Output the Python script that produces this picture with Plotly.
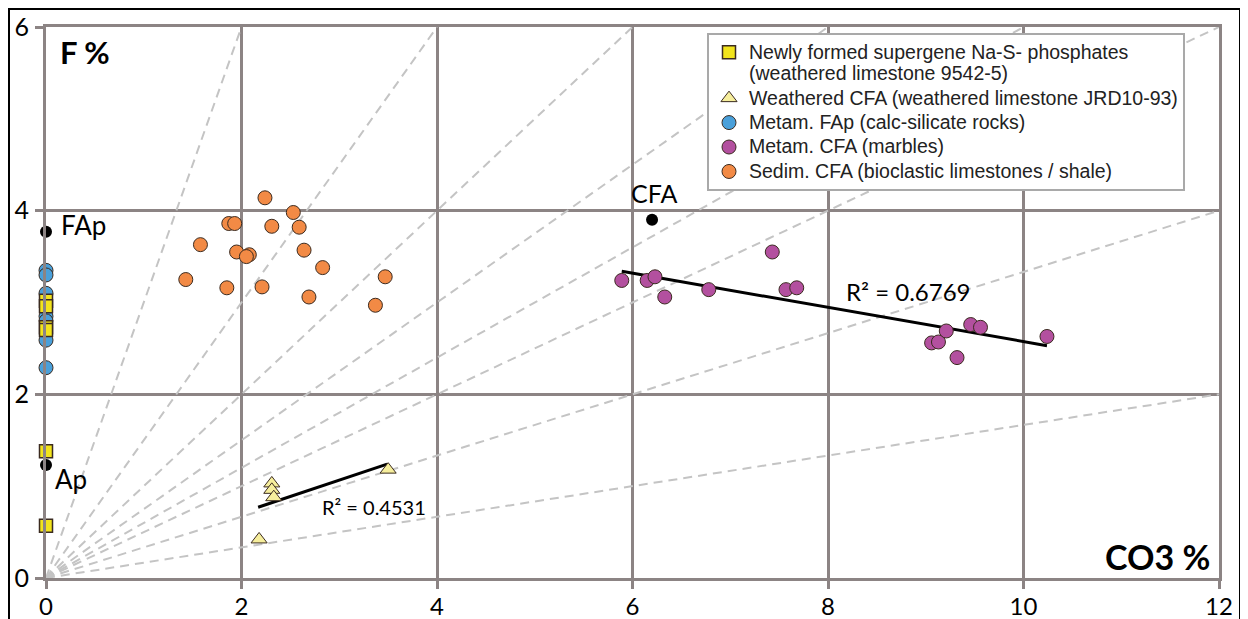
import plotly.graph_objects as go

# ---------------- data ----------------
# Newly formed supergene Na-S- phosphates (all at CO3 = 0)
sq_x = [0, 0, 0, 0, 0, 0]
sq_y = [3.02, 2.96, 2.73, 2.70, 1.38, 0.57]

# Weathered CFA (triangles)
tri_x = [2.31, 2.31, 2.33, 3.50, 2.18]
tri_y = [1.03, 0.96, 0.88, 1.18, 0.42]
tri_fit_x = [2.17, 3.49]
tri_fit_y = [0.77, 1.24]

# Metam. FAp (calc-silicate rocks)
blue_x = [0, 0, 0, 0, 0, 0, 0]
blue_y = [3.35, 3.30, 3.10, 2.85, 2.80, 2.59, 2.29]

# Metam. CFA (marbles)
purple_x = [5.89, 6.15, 6.23, 6.33, 6.78, 7.43, 7.57, 7.68,
            9.06, 9.13, 9.21, 9.32, 9.46, 9.56, 10.24]
purple_y = [3.24, 3.24, 3.28, 3.06, 3.14, 3.55, 3.14, 3.16,
            2.56, 2.57, 2.69, 2.40, 2.76, 2.73, 2.63]
purple_fit_x = [5.89, 10.24]
purple_fit_y = [3.34, 2.53]

# Sedim. CFA (bioclastic limestones / shale)
orange_x = [2.24, 2.53, 1.87, 1.93, 2.31, 2.59, 1.58, 1.95, 2.08, 2.05,
            2.64, 2.83, 3.47, 1.43, 1.85, 2.21, 2.69, 3.37]
orange_y = [4.14, 3.98, 3.86, 3.86, 3.83, 3.82, 3.63, 3.55, 3.52, 3.50,
            3.57, 3.38, 3.28, 3.25, 3.16, 3.17, 3.06, 2.97]

# Reference end-members
ref_names = ["FAp", "Ap", "CFA"]
ref_x = [0, 0, 6.2]
ref_y = [3.77, 1.23, 3.90]

# F/CO3 ratio guide lines from origin
ratios = [3, 1.5, 1, 0.75, 0.6, 0.5, 1 / 3, 1 / 6]

r2_labels = ["R² = 0.4531", "R² = 0.6769"]

x_ticks = [0, 2, 4, 6, 8, 10, 12]
y_ticks = [0, 2, 4, 6]

names = [
    "Newly formed supergene Na-S- phosphates<br>(weathered limestone 9542-5)",
    "Weathered CFA (weathered limestone JRD10-93)",
    "Metam. FAp (calc-silicate rocks)",
    "Metam. CFA (marbles)",
    "Sedim. CFA (bioclastic limestones / shale)",
]

# ---------------- figure ----------------
XMAX, YMAX = 12, 6
GRID = "#8c8484"
EDGE = "#3b2b20"
FONT = "Lato"
LEG_PX = 19.5

fig = go.Figure()

# dashed ratio lines
for r in ratios:
    xe = min(XMAX, YMAX / r)
    fig.add_trace(go.Scatter(
        x=[0, xe], y=[0, r * xe], mode="lines",
        line=dict(color="#c4c4c4", width=2, dash="9px,6px"),
        showlegend=False, hoverinfo="skip"))

# fit lines
fig.add_trace(go.Scatter(x=tri_fit_x, y=tri_fit_y, mode="lines",
                         line=dict(color="black", width=3), showlegend=False))
fig.add_trace(go.Scatter(x=purple_fit_x, y=purple_fit_y, mode="lines",
                         line=dict(color="black", width=3), showlegend=False))

mk = dict(size=14, line=dict(color=EDGE, width=1))

def leg(t):
    return "<br>".join('<span style="font-size:%spx">%s</span>' % (LEG_PX, p)
                       for p in t.split("<br>"))

fig.add_trace(go.Scatter(x=orange_x, y=orange_y, mode="markers", name=leg(names[4]),
                         marker=dict(symbol="circle", color="#f28a45", **mk)))
fig.add_trace(go.Scatter(x=purple_x, y=purple_y, mode="markers", name=leg(names[3]),
                         marker=dict(symbol="circle", color="#b3509f", **mk)))
fig.add_trace(go.Scatter(x=blue_x, y=blue_y, mode="markers", name=leg(names[2]),
                         cliponaxis=False,
                         marker=dict(symbol="circle", color="#4aa0da", **mk)))
fig.add_trace(go.Scatter(x=tri_x, y=tri_y, mode="markers", name=leg(names[1]),
                         marker=dict(symbol="triangle-up", color="#f6ee9c", **mk)))
fig.add_trace(go.Scatter(x=sq_x, y=sq_y, mode="markers", name=leg(names[0]),
                         cliponaxis=False,
                         marker=dict(symbol="square", color="#f2e41c", size=13,
                                     line=dict(color=EDGE, width=1.5))))
fig.add_trace(go.Scatter(x=ref_x, y=ref_y, mode="markers", showlegend=False,
                         cliponaxis=False,
                         marker=dict(symbol="circle", color="black", size=12)))

# labels for reference points
fig.add_annotation(x=ref_x[0], y=ref_y[0], text=ref_names[0], showarrow=False,
                   xanchor="left", yanchor="middle", xshift=13, yshift=7,
                   font=dict(family=FONT, size=26, color="black"))
fig.add_annotation(x=ref_x[1], y=ref_y[1], text=ref_names[1], showarrow=False,
                   xanchor="left", yanchor="middle", xshift=7, yshift=-14,
                   font=dict(family=FONT, size=26, color="black"))
fig.add_annotation(x=ref_x[2], y=ref_y[2], text=ref_names[2], showarrow=False,
                   xanchor="center", yanchor="bottom", xshift=2, yshift=10,
                   font=dict(family=FONT, size=25, color="black"))

fig.add_annotation(x=3.36, y=0.77, text=r2_labels[0], showarrow=False,
                   xanchor="center", yanchor="middle",
                   font=dict(family=FONT, size=20, color="black"))
fig.add_annotation(x=8.82, y=3.12, text=r2_labels[1], showarrow=False,
                   xanchor="center", yanchor="middle",
                   font=dict(family=FONT, size=24, color="black"))

# axis titles inside the plot
fig.add_annotation(x=0.12, y=5.73, text="<b>F %</b>", showarrow=False,
                   xanchor="left", yanchor="middle",
                   font=dict(family=FONT, size=31, color="black"))
fig.add_annotation(x=11.93, y=0.23, text="<b>CO3 %</b>", showarrow=False,
                   xanchor="right", yanchor="middle",
                   font=dict(family=FONT, size=34, color="black"))

# page geometry: the page body adds an 8 px offset, so work in window pixels
OFF = 8
Lw, Rw, Tw, Bw = 46, 1219, 27, 578          # plot area in window pixels
W, H = 1248 - OFF, 619 - OFF
def px(xw):
    return (xw - Lw) / (Rw - Lw)
def py(yw):
    return (Bw - yw) / (Bw - Tw)

# outer black frame of the picture
fig.add_shape(type="rect", xref="paper", yref="paper",
              x0=px(9), x1=px(1240), y0=py(680), y1=py(9),
              line=dict(color="black", width=2), layer="below")

axis_common = dict(
    showgrid=True, gridcolor=GRID, gridwidth=3,
    zeroline=False, automargin=False,
    showline=True, linecolor=GRID, linewidth=3, mirror=True,
    ticks="outside", ticklen=8, tickwidth=3, tickcolor=GRID,
    fixedrange=True,
)

fig.update_xaxes(range=[0, XMAX], tickvals=x_ticks, ticktext=[str(v) for v in x_ticks],
                 ticklabelstandoff=-3,
                 tickfont=dict(family=FONT, size=24, color="black"), **axis_common)
fig.update_yaxes(range=[0, YMAX], tickvals=y_ticks, ticktext=[str(v) for v in y_ticks],
                 ticklabelstandoff=1,
                 tickfont=dict(family=FONT, size=25, color="black"), **axis_common)

fig.update_layout(
    width=W, height=H,
    margin=dict(l=Lw - OFF, r=1248 - Rw, t=Tw - OFF, b=619 - Bw, pad=0, autoexpand=False),
    paper_bgcolor="white", plot_bgcolor="white",
    legend=dict(
        x=px(707), y=py(33), xanchor="left", yanchor="top",
        bgcolor="white", bordercolor="#a9a9a9", borderwidth=2,
        font=dict(family="Liberation Sans", size=16.5, color="#222222"),
        traceorder="reversed", valign="top", itemwidth=30,
        tracegroupgap=0,
    ),
)

fig.write_html("out.html")
